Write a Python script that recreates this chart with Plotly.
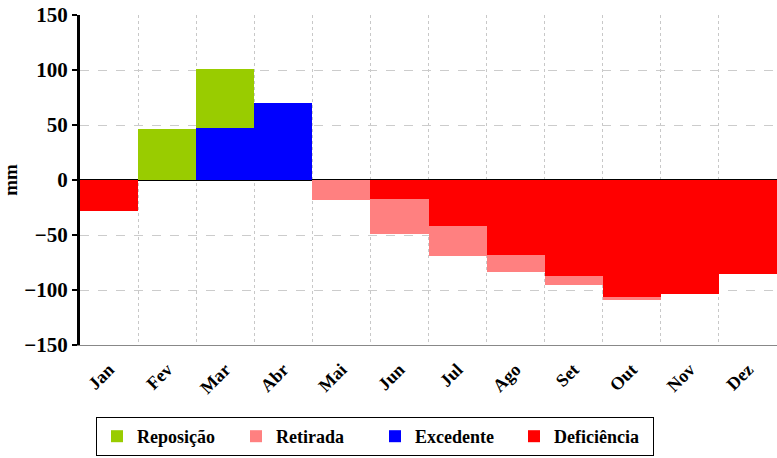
import plotly.graph_objects as go

meses = ["Jan", "Fev", "Mar", "Abr", "Mai", "Jun", "Jul", "Ago", "Set", "Out", "Nov", "Dez"]

# valores em mm
excedente = [0, 0, 47, 70, 0, 0, 0, 0, 0, 0, 0, 0]
reposicao = [0, 46, 54, 0, 0, 0, 0, 0, 0, 0, 0, 0]
deficiencia = [-28, 0, 0, 0, 0, -17, -42, -68, -87, -106, -104, -85]
retirada = [0, 0, 0, 0, -18, -32, -27, -16, -8, -3, 0, 0]

fonte = "Liberation Serif"

fig = go.Figure()

# ordem das séries = ordem de empilhamento a partir do zero
fig.add_trace(go.Bar(x=meses, y=excedente, name="Excedente",
                     marker=dict(color="#0000FF", line=dict(width=0)), legendrank=3))
fig.add_trace(go.Bar(x=meses, y=reposicao, name="Reposição",
                     marker=dict(color="#99CC00", line=dict(width=0)), legendrank=1))
fig.add_trace(go.Bar(x=meses, y=deficiencia, name="Deficiência",
                     marker=dict(color="#FF0000", line=dict(width=0)), legendrank=4))
fig.add_trace(go.Bar(x=meses, y=retirada, name="Retirada",
                     marker=dict(color="#FF8080", line=dict(width=0)), legendrank=2))

fig.update_layout(
    barmode="relative",
    bargap=0,
    width=777, height=458,
    margin=dict(l=80, r=0, t=15, b=113, autoexpand=False),
    plot_bgcolor="white",
    paper_bgcolor="white",
    font=dict(family=fonte, color="black"),
    legend=dict(
        orientation="h",
        xref="container", yref="container",
        x=96 / 777, y=1 - 417 / 458, xanchor="left", yanchor="top",
        bordercolor="black", borderwidth=1,
        font=dict(family=fonte, size=18, color="black", weight="bold"),
        entrywidth=94,
    ),
    showlegend=True,
)

fig.update_xaxes(
    type="category",
    tickson="boundaries",
    automargin=False,
    showgrid=True, gridcolor="#C8C8C8", griddash="dot", gridwidth=1,
    showline=True, linecolor="#888888", linewidth=1,
    ticks="", tickangle=-45, ticklabelstandoff=6,
    tickfont=dict(family=fonte, size=18, color="black", weight="bold"),
    range=[-0.5, 11.5],
)

fig.update_yaxes(
    range=[-150, 150],
    tickvals=[-150, -100, -50, 0, 50, 100, 150],
    automargin=False,
    showgrid=True, gridcolor="#CCCCCC", griddash="dash", gridwidth=1,
    zeroline=True, zerolinecolor="black", zerolinewidth=1.5,
    showline=True, linecolor="black", linewidth=3,
    ticks="outside", ticklen=5, tickwidth=2, tickcolor="black",
    tickfont=dict(family=fonte, size=21, color="black", weight="bold"),
    title=dict(text="mm", font=dict(family=fonte, size=19, color="black", weight="bold"), standoff=4),
)

# sem margem da página, para a figura ocupar a janela exatamente
fig.write_html("out.html", config={"displayModeBar": False},
               post_script="document.body.style.margin='0';")
